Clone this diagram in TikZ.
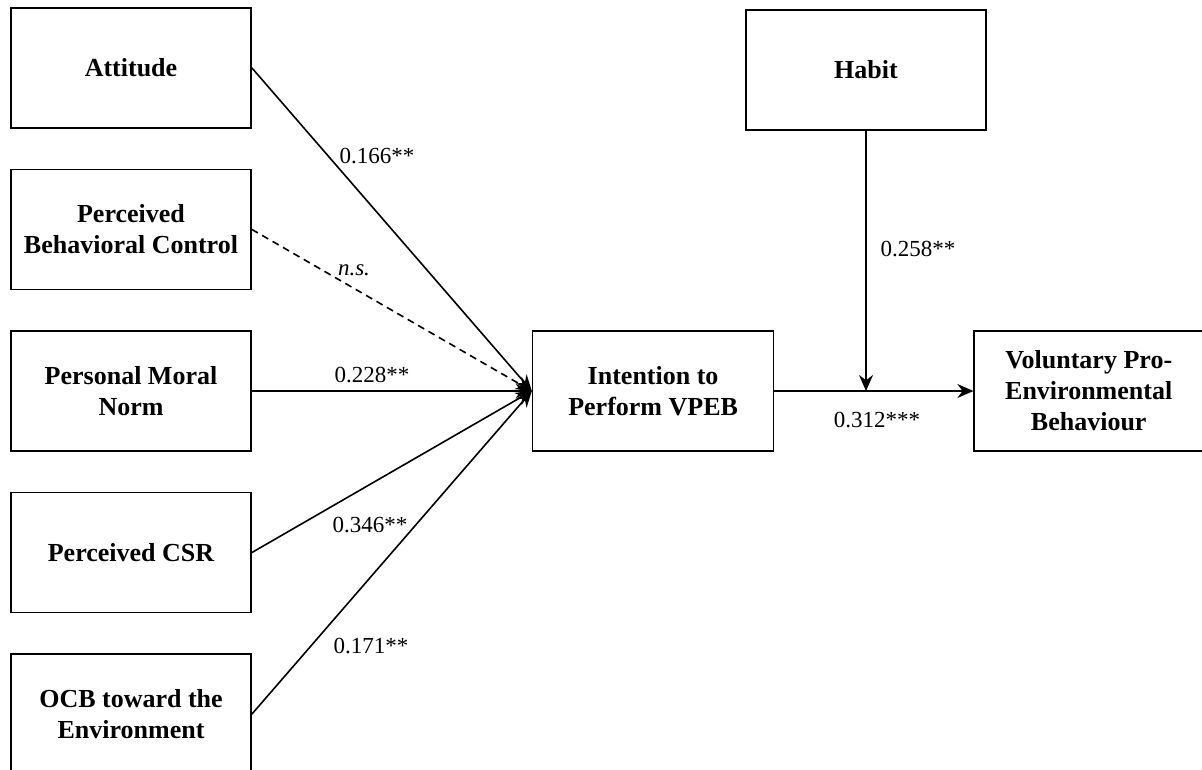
\documentclass[tikz,border=0pt]{standalone}
\usepackage{fontspec}
\setmainfont{Liberation Serif}
\usepackage{tikz}
\usetikzlibrary{arrows.meta, positioning}
\tikzstyle{varbox} = [rectangle, minimum width=240pt, minimum height=120pt, text centered, align=center, draw=black, line width=1.6pt, font=\bfseries\fontsize{26}{31}\selectfont]
\tikzstyle{coef} = [anchor=base, inner sep=0pt, font=\fontsize{23}{26}\selectfont]
\tikzstyle{arrow} = [line width=1.6pt, -{Stealth[length=16pt, width=14pt]}]

\begin{document}
\begin{tikzpicture}[x=1pt, y=-1pt, node distance=40pt]
    \useasboundingbox (0,0) rectangle (1202,769);

    \node (pmn) [varbox] at (131,391) {Personal Moral\\Norm};
    \node (pbc) [varbox, above=of pmn] {Perceived\\Behavioral Control};
    \node (att) [varbox, above=of pbc] {Attitude};
    \node (csr) [varbox, below=of pmn] {Perceived CSR};
    \node (ocb) [varbox, below=of csr] {OCB toward the\\Environment};
    \node (intent) [varbox, right=280pt of pmn, minimum width=241pt] {Intention to\\Perform VPEB};
    \node (vpeb) [varbox, right=199pt of intent, minimum width=229pt] {Voluntary Pro-\\Environmental\\Behaviour};
    \node (habit) [varbox] at (866,70) {Habit};
    \coordinate (meet) at (habit.south |- intent.east);

    \draw [arrow] (att.east) -- (intent.west);
    \draw [arrow, dash pattern=on 7pt off 5pt] (pbc.east) -- (intent.west);
    \draw [arrow] (pmn.east) -- (intent.west);
    \draw [arrow] (csr.east) -- (intent.west);
    \draw [arrow] (ocb.east) -- (intent.west);
    \draw [arrow] (intent.east) -- (vpeb.west);
    \draw [arrow] (habit.south) -- (meet);

    \node (c1) [coef] at (377,163) {0.166**};
    \node (c2) [coef] at (354,275) {\textit{n.s.}};
    \node (c3) [coef] at (372,382) {0.228**};
    \node (c4) [coef] at (370,532) {0.346**};
    \node (c5) [coef] at (371,653) {0.171**};
    \node (c6) [coef] at (918,256) {0.258**};
    \node (c7) [coef] at (877,427) {0.312***};
\end{tikzpicture}
\end{document}
